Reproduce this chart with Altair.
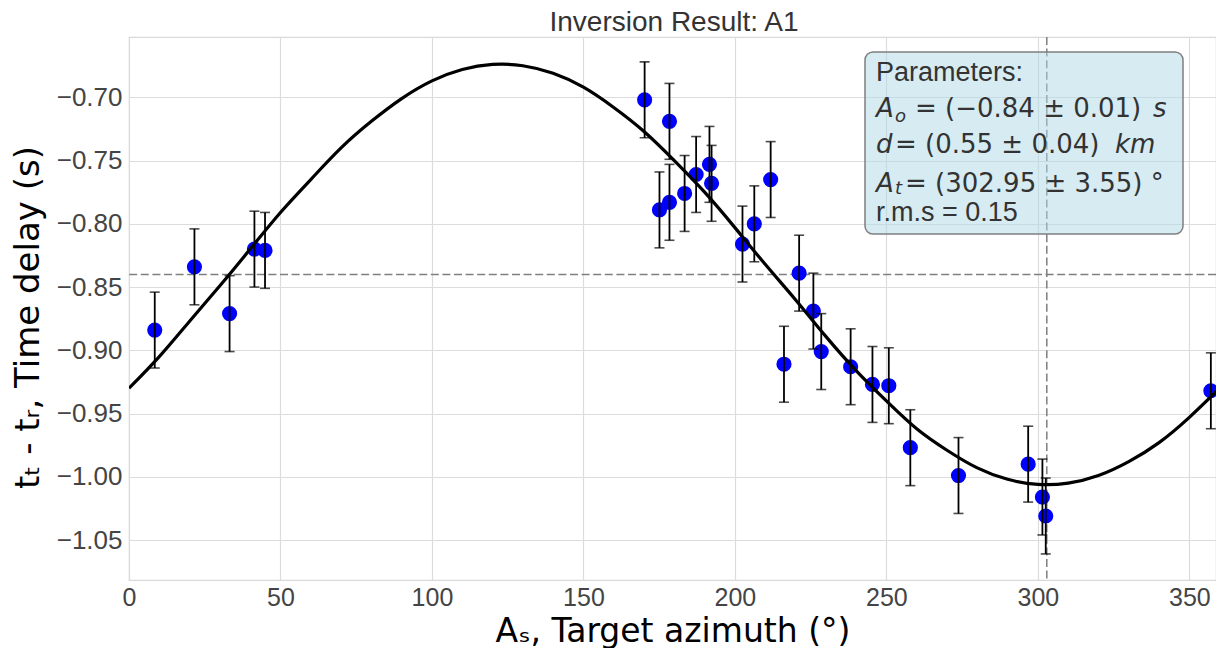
import altair as alt
import pandas as pd

# ---- data ----
azimuth = [8.5, 21.6, 33.2, 41.4, 44.9, 170.2, 175.1, 178.4, 178.4, 183.4,
           187.2, 191.6, 192.3, 202.5, 206.4, 211.8, 216.2, 221.2, 225.9, 228.5,
           238.2, 245.4, 250.8, 257.9, 273.8, 296.8, 301.5, 302.6, 357.1]
delay = [-0.884, -0.834, -0.871, -0.820, -0.821, -0.702, -0.789, -0.719, -0.783, -0.776,
         -0.761, -0.753, -0.768, -0.816, -0.800, -0.765, -0.911, -0.839, -0.869, -0.901,
         -0.913, -0.927, -0.928, -0.977, -0.999, -0.990, -1.016, -1.031, -0.932]
delay_err = [0.03, 0.03, 0.03, 0.03, 0.03, 0.03, 0.03, 0.03, 0.03, 0.03,
             0.03, 0.03, 0.03, 0.03, 0.03, 0.03, 0.03, 0.03, 0.03, 0.03,
             0.03, 0.03, 0.03, 0.03, 0.03, 0.03, 0.03, 0.03, 0.03]

curve_az = [0, 10, 20, 30, 40, 50, 60, 70, 80, 90, 100, 110, 120, 130, 140, 150,
            160, 170, 180, 190, 200, 210, 220, 230, 240, 250, 260, 270, 280, 290,
            300, 310, 320, 330, 340, 350, 360]
curve_delay = [-0.930, -0.905, -0.877, -0.849, -0.820, -0.791, -0.765, -0.740, -0.719,
               -0.701, -0.687, -0.678, -0.674, -0.675, -0.681, -0.692, -0.708, -0.727,
               -0.750, -0.775, -0.803, -0.832, -0.860, -0.889, -0.916, -0.940, -0.962,
               -0.979, -0.993, -1.002, -1.006, -1.005, -0.999, -0.988, -0.973, -0.953,
               -0.930]

offset_delay = -0.84      # A_o
target_azimuth = 302.95   # A_t

title_text = "Inversion Result: A1"
x_title = "Aₛ, Target azimuth (°)"
y_title = "tₜ - tᵣ, Time delay (s)"
x_ticks = [0, 50, 100, 150, 200, 250, 300, 350]
y_ticks = [-1.05, -1.00, -0.95, -0.90, -0.85, -0.80, -0.75, -0.70]

pts = pd.DataFrame({"az": azimuth, "delay": delay, "err": delay_err})
pts["lo"] = pts["delay"] - pts["err"]
pts["hi"] = pts["delay"] + pts["err"]
curve = pd.DataFrame({"az": curve_az, "delay": curve_delay})

W, H = 1087, 543

xs = alt.Scale(domain=[0, 358.8], nice=False, zero=False)
ys = alt.Scale(domain=[-1.0816, -0.6523], nice=False, zero=False)

x_axis = alt.Axis(values=x_ticks, format="d", title=x_title, grid=True, ticks=False,
                  domain=False, labelFont="Liberation Sans", labelFontSize=25,
                  labelColor="#444444", labelPadding=5, labelFlush=False,
                  titleFont="DejaVu Sans", titleFontSize=33, titleFontWeight="normal",
                  titleColor="black", titleBaseline="alphabetic", titleY=61,
                  titleX=W / 2, titleAlign="center",
                  gridColor="#dcdcdc", gridWidth=1.2)
y_axis = alt.Axis(values=y_ticks, format=".2f", title=y_title, grid=True, ticks=False,
                  domain=False, labelFont="Liberation Sans", labelFontSize=26,
                  labelColor="#444444", labelPadding=7, labelFlush=False,
                  titleFont="DejaVu Sans", titleFontSize=34, titleFontWeight="normal",
                  titleColor="black", titleAngle=270, titleBaseline="alphabetic",
                  titleAlign="center", titleX=-91, titleY=280,
                  gridColor="#dcdcdc", gridWidth=1.2)

base = alt.Chart(pts)

hline = alt.Chart(pd.DataFrame({"v": [offset_delay]})).mark_rule(
    color="#7f7f7f", strokeWidth=1.5, strokeDash=[8, 3.6]
).encode(y=alt.Y("v:Q", scale=ys, axis=y_axis))

vline = alt.Chart(pd.DataFrame({"v": [target_azimuth]})).mark_rule(
    color="#7f7f7f", strokeWidth=1.5, strokeDash=[8, 3.6]
).encode(x=alt.X("v:Q", scale=xs, axis=x_axis))

points = base.mark_circle(color="#0000ff", opacity=1, size=230).encode(
    x=alt.X("az:Q", scale=xs, axis=x_axis),
    y=alt.Y("delay:Q", scale=ys, axis=y_axis),
)

errbars = base.mark_errorbar(
    ticks={"size": 10, "thickness": 1.6, "color": "black"},
    rule={"strokeWidth": 1.8, "color": "black"},
    color="black",
).encode(
    x=alt.X("az:Q", scale=xs, axis=x_axis),
    y=alt.Y("lo:Q", scale=ys, axis=y_axis),
    y2="hi:Q",
)

line = alt.Chart(curve).mark_line(color="black", strokeWidth=3.2,
                                  interpolate="natural", clip=True).encode(
    x=alt.X("az:Q", scale=xs, axis=x_axis),
    y=alt.Y("delay:Q", scale=ys, axis=y_axis),
)

one = pd.DataFrame({"k": [0]})
box = alt.Chart(one).mark_rect(
    fill="#add8e6", fillOpacity=0.5, stroke="#7f7f7f", strokeWidth=1.5,
    cornerRadius=8
).encode(x=alt.value(736), x2=alt.value(1054), y=alt.value(15), y2=alt.value(197))


def label(text, x, y, size=26, font="DejaVu Sans", style="normal",
          color="#333333", align="left"):
    return alt.Chart(one).mark_text(
        text=text, align=align, baseline="alphabetic", font=font,
        fontSize=size, fontStyle=style, color=color
    ).encode(x=alt.value(x), y=alt.value(y))


texts = [
    label(title_text, 545, -6, size=28, font="Liberation Sans", align="center"),
    label("Parameters:", 747, 44, size=27, font="Liberation Sans"),
    label("A", 747, 80, style="italic"),
    label("o", 766, 85, size=18, style="italic"),
    label("= (−0.84 ± 0.01)", 786, 80),
    label("s", 1024, 80, style="italic"),
    label("d", 747, 116, style="italic"),
    label("= (0.55 ± 0.04)", 766, 116),
    label("km", 986, 116, style="italic"),
    label("A", 747, 155, style="italic"),
    label("t", 766, 157, size=18, style="italic"),
    label("= (302.95 ± 3.55) °", 776, 155),
    label("r.m.s = 0.15", 747, 184, size=27, font="Liberation Sans"),
]

chart = alt.layer(hline, vline, points, line, errbars, box, *texts).properties(
    width=W, height=H,
    autosize=alt.AutoSizeParams(type="none"),
    padding={"left": 121, "top": 29, "right": 0, "bottom": 68},
).configure_view(stroke="#d9d9d9", strokeWidth=1.2)

chart.save("out.html", embed_options={"renderer": "svg", "actions": False})
